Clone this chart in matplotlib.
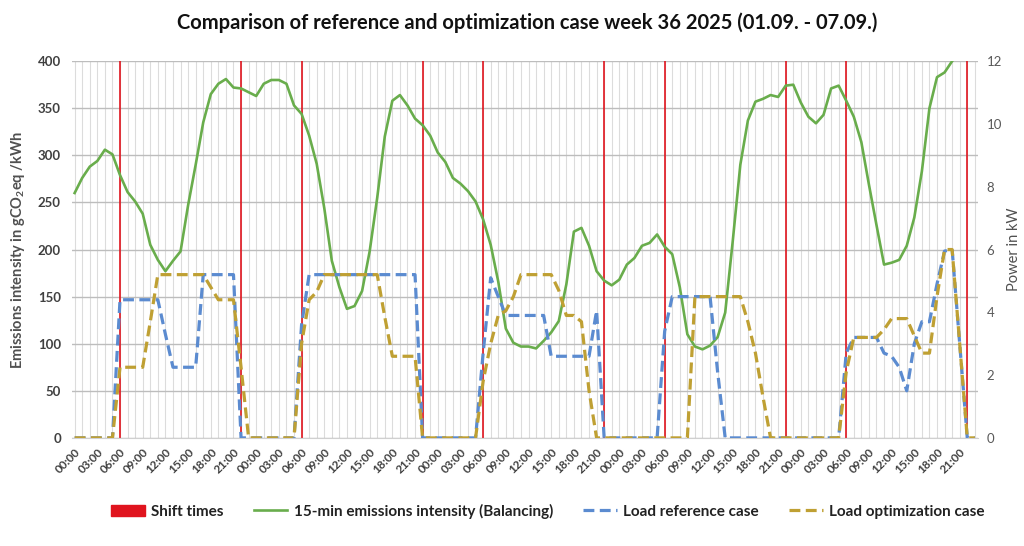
import numpy as np
import matplotlib
matplotlib.use('Agg')
import matplotlib.pyplot as plt
import matplotlib.patches as mpatches
from matplotlib.lines import Line2D

plt.rcParams.update({
    'font.family': ['Lato', 'DejaVu Sans'],
    'mathtext.fontset': 'custom',
    'mathtext.rm': 'Lato',
    'mathtext.bf': 'Lato:bold',
})

TITLE = 'Comparison of reference and optimization case week 36 2025 (01.09. - 07.09.)'

# hourly index over five days (Mon 00:00 .. Fri 23:00)
hours = np.arange(120)
day_labels = ['00:00', '03:00', '06:00', '09:00', '12:00', '15:00', '18:00', '21:00']
tick_labels = day_labels * 5

# shift start / end hours (06:00 and 22:00 each day)
shift_hours = [6, 22, 30, 46, 54, 70, 78, 94, 102, 118]

# 15-min emissions intensity (Balancing), gCO2eq/kWh
emissions = [
    260, 276, 288, 294, 306, 301, 279, 261, 251, 238, 205, 189,
    177, 188, 198, 247, 290, 335, 365, 376, 381, 372, 371, 367,
    363, 376, 380, 380, 376, 353, 344, 321, 291, 244, 188, 160,
    137, 140, 156, 198, 255, 320, 358, 364, 353, 339, 332, 321,
    303, 293, 276, 270, 262, 251, 232, 205, 166, 116, 101, 97,
    97, 95, 103, 112, 124, 163, 219, 223, 204, 177, 167, 162,
    168, 184, 191, 204, 207, 216, 203, 195, 160, 110, 97, 94,
    98, 107, 133, 209, 290, 337, 357, 360, 364, 362, 374, 375,
    356, 341, 334, 343, 371, 374, 358, 341, 314, 269, 226, 184,
    186, 189, 204, 234, 283, 350, 383, 388, 400, 410, 418, 425,
]

# load reference case, kW
load_ref = [
    0, 0, 0, 0, 0, 0, 4.4, 4.4, 4.4, 4.4, 4.4, 4.4,
    3.3, 2.25, 2.25, 2.25, 2.25, 5.2, 5.2, 5.2, 5.2, 5.2, 0, 0,
    0, 0, 0, 0, 0, 0, 3.6, 5.2, 5.2, 5.2, 5.2, 5.2,
    5.2, 5.2, 5.2, 5.2, 5.2, 5.2, 5.2, 5.2, 5.2, 5.2, 0, 0,
    0, 0, 0, 0, 0, 0, 2.7, 5.1, 4.5, 3.9, 3.9, 3.9,
    3.9, 3.9, 3.9, 2.6, 2.6, 2.6, 2.6, 2.6, 2.6, 4.05, 0, 0,
    0, 0, 0, 0, 0, 0, 3.4, 4.5, 4.5, 4.5, 4.5, 4.5,
    4.5, 2.1, 0, 0, 0, 0, 0, 0, 0, 0, 0, 0,
    0, 0, 0, 0, 0, 0, 2.7, 3.2, 3.2, 3.2, 3.2, 2.7,
    2.6, 2.25, 1.5, 3.0, 3.7, 3.7, 4.9, 5.95, 6.0, 3.0, 0, 0,
]

# load optimization case, kW
load_opt = [
    0, 0, 0, 0, 0, 0, 2.25, 2.25, 2.25, 2.25, 3.7, 5.2,
    5.2, 5.2, 5.2, 5.2, 5.2, 5.2, 4.8, 4.4, 4.4, 4.4, 2.25, 0,
    0, 0, 0, 0, 0, 0, 3.0, 4.4, 4.65, 5.2, 5.2, 5.2,
    5.2, 5.2, 5.2, 5.2, 5.2, 3.85, 2.6, 2.6, 2.6, 2.6, 0, 0,
    0, 0, 0, 0, 0, 0, 1.8, 3.0, 3.9, 4.05, 4.5, 5.2,
    5.2, 5.2, 5.2, 5.2, 4.7, 3.9, 3.9, 3.7, 1.5, 0, 0, 0,
    0, 0, 0, 0, 0, 0, 0, 0, 0, 0, 4.5, 4.5,
    4.5, 4.5, 4.5, 4.5, 4.5, 3.7, 2.7, 1.3, 0, 0, 0, 0,
    0, 0, 0, 0, 0, 0, 2.1, 3.2, 3.2, 3.2, 3.2, 3.45,
    3.8, 3.8, 3.8, 3.25, 2.7, 2.7, 4.5, 6.0, 6.0, 3.0, 0, 0,
]

RED = '#E0141E'
GREEN = '#69AD4C'
BLUE = '#5B8BD0'
GOLD = '#BFA033'
TXT = '#404040'

fig = plt.figure(figsize=(10.24, 5.46), dpi=100)
ax = fig.add_axes([0.0703, 0.198, 0.885, 0.690])
ax2 = ax.twinx()

ax.set_axisbelow(True)
ax.vlines(shift_hours, 0, 400, color=RED, lw=1.2, zorder=2)
ax.plot(hours, emissions, color=GREEN, lw=1.9, zorder=3)

dash = (0, (3.4, 1.7))
ax2.plot(hours, load_ref, color=BLUE, lw=2.3, ls=dash, zorder=3)
ax2.plot(hours, load_opt, color=GOLD, lw=2.3, ls=dash, zorder=4)

ax.set_xlim(-0.35, 119.45)
ax.set_ylim(0, 400)
ax2.set_ylim(0, 12)

ax.set_yticks(np.arange(0, 401, 50))
ax2.set_yticks(np.arange(0, 13, 2))
ax.set_xticks(hours[::3])
ax.set_xticks(hours, minor=True)
ax.set_xticklabels(tick_labels, rotation=45, ha='right', rotation_mode='anchor',
                   fontsize=8.5, fontweight='bold', color=TXT)

ax.grid(axis='x', which='both', color='#DCDCDC', lw=0.8)
ax.grid(axis='y', which='major', color='#BDBDBD', lw=1.0)

ax.tick_params(axis='both', which='both', length=0)
ax.tick_params(axis='x', pad=6)
ax.tick_params(axis='y', labelsize=9.5, labelcolor=TXT, pad=8)
for lbl in ax.get_yticklabels():
    lbl.set_fontweight('bold')
ax2.tick_params(axis='y', length=0, labelsize=9.5, labelcolor='#595959', pad=6)

for a in (ax, ax2):
    for s in a.spines.values():
        s.set_visible(False)
ax.spines['bottom'].set_visible(True)
ax.spines['bottom'].set_color('#D0D0D0')

ax.set_ylabel(r'Emissions intensity in gCO$_\mathbf{2}$eq /kWh', fontsize=10.5,
              fontweight='bold', color='#505050', labelpad=8)
ax2.set_ylabel('Power in kW', fontsize=10.5, color='#505050', labelpad=4)

fig.text(0.515, 0.958, TITLE, ha='center', va='center', fontsize=14.5,
         fontweight='bold', color='#111111')

handles = [
    mpatches.Patch(color=RED),
    Line2D([], [], color=GREEN, lw=1.9),
    Line2D([], [], color=BLUE, lw=2.3, ls=dash),
    Line2D([], [], color=GOLD, lw=2.3, ls=dash),
]
labels = ['Shift times', '15-min emissions intensity (Balancing)',
          'Load reference case', 'Load optimization case']
fig.legend(handles, labels, loc='center', bbox_to_anchor=(0.535, 0.064), ncol=4,
           frameon=False, handlelength=2.2, handletextpad=0.4, columnspacing=2.0,
           prop={'size': 11, 'weight': 'bold'}, labelcolor='#222222')

fig.savefig('out.png', dpi=100, facecolor='white')
